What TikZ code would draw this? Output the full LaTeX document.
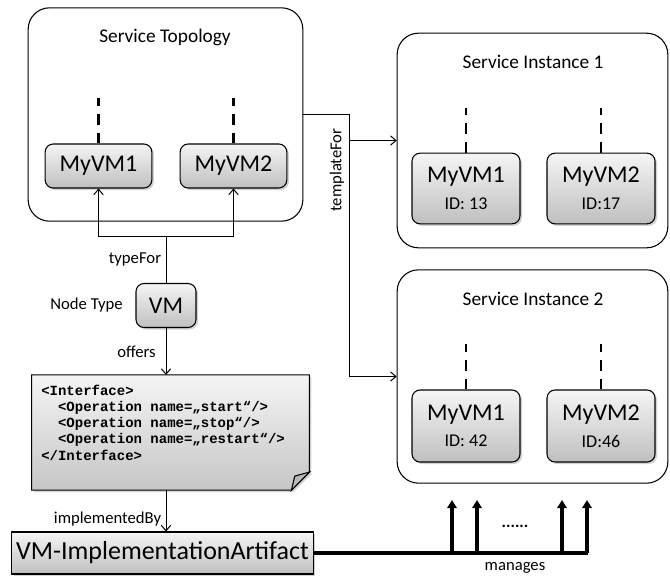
\documentclass[tikz,border=0pt]{standalone}
\usepackage{fontspec}
\setmainfont{Carlito}
\setmonofont{Liberation Mono}
\usetikzlibrary{positioning,shadows,arrows.meta}

\tikzset{
  container/.style={draw, rounded corners=16pt, line width=0.8pt, fill=white},
  title/.style={font=\fontsize{14.5}{16}\selectfont},
  lbl/.style={font=\fontsize{12.5}{14}\selectfont},
  grayfill/.style={top color=gray!8, bottom color=gray!50,
    drop shadow={shadow xshift=1.5pt, shadow yshift=-1.5pt, opacity=0.35}},
  vmbox/.style={draw, grayfill, rounded corners=6pt, line width=0.8pt,
    align=center, inner sep=0pt, font=\fontsize{18}{19}\selectfont},
  dashline/.style={line width=2pt, dash pattern=on 8pt off 6pt},
  conn/.style={line width=0.75pt, -{Straight Barb[length=4pt,width=7pt]}},
  managearrow/.style={line width=2.4pt, -{Triangle[length=6pt,width=7pt]}},
}
\newcommand{\idtext}[1]{\\[1pt]{\fontsize{13.5}{15}\selectfont #1}}

\begin{document}
\begin{tikzpicture}[x=0.75pt,y=-0.75pt]
    \useasboundingbox (0,0) rectangle (670,578);

    % containers
    \node[container, minimum width=206pt, minimum height=160pt] (topo) at (165.5,114.5) {};
    \node[container, minimum width=203pt, minimum height=161pt] (inst1) at (532.5,140.5) {};
    \node[container, minimum width=203pt, minimum height=160pt] (inst2) at (532.5,376.5) {};
    \node[title] (topotitle) at (165,37) {Service Topology};
    \node[title] (inst1title) at (533,62) {Service Instance 1};
    \node[title] (inst2title) at (533,299) {Service Instance 2};

    % vms
    \node[vmbox, minimum width=80pt, minimum height=33pt] (t1) at (98.5,166) {MyVM1};
    \node[vmbox, minimum width=80pt, minimum height=33pt] (t2) at (233.5,166) {MyVM2};
    \node[vmbox, minimum width=81pt, minimum height=53pt] (a1) at (466,188.5) {MyVM1\idtext{ID: 13}};
    \node[vmbox, minimum width=81pt, minimum height=53pt] (a2) at (601,188.5) {MyVM2\idtext{ID:17}};
    \node[vmbox, minimum width=81pt, minimum height=54pt] (b1) at (466,426) {MyVM1\idtext{ID: 42}};
    \node[vmbox, minimum width=81pt, minimum height=54pt] (b2) at (601,426) {MyVM2\idtext{ID:46}};
    \foreach \n in {t1,t2,a1,a2,b1,b2}
        \draw[dashline] (\n.north) -- ++(0,-45);

    % node type
    \node[vmbox, minimum width=45pt, minimum height=33pt] (vm) at (166,305.5) {VM};
    \node[lbl, left=6pt of vm] (nodetype) {Node Type};

    % interface
    \node[minimum width=208pt, minimum height=86pt, inner sep=0pt] (iface) at (170.5,432.5) {};
    \path[draw, line width=0.8pt, top color=gray!8, bottom color=gray!45,
          drop shadow={shadow xshift=1.5pt, shadow yshift=-1.5pt, opacity=0.35}]
        (iface.north west) -- (iface.north east) -- ([yshift=13.5pt]iface.south east)
        -- ([xshift=-13.5pt]iface.south east) -- (iface.south west) -- cycle;
    \draw[line width=0.8pt, fill=gray!55]
        ([xshift=-13.5pt]iface.south east) -- ([xshift=-11pt,yshift=10.5pt]iface.south east)
        -- ([yshift=13.5pt]iface.south east) -- cycle;
    \node[anchor=west, align=left, inner sep=0pt,
          font=\ttfamily\bfseries\fontsize{10.5}{12.2}\selectfont] (ifacecode) at (41,422.5)
        {<Interface>\\
         \phantom{xx}<Operation name=„start“/>\\
         \phantom{xx}<Operation name=„stop“/>\\
         \phantom{xx}<Operation name=„restart“/>\\
         </Interface>};

    % artifact
    \node[draw, grayfill, line width=0.8pt, minimum width=226pt, minimum height=31.5pt,
          inner sep=0pt, font=\fontsize{19.5}{21}\selectfont] (art) at (162.5,553) {VM-ImplementationArtifact};

    % lines
    \coordinate (tf) at (166,236);
    \draw[line width=0.75pt] (vm.north) -- (tf) node[lbl, midway, left] (typefor) {typeFor};
    \draw[conn] (tf) -| (t1.south);
    \draw[conn] (tf) -| (t2.south);
    \draw[conn] (vm.south) -- (vm.south |- iface.north) node[lbl, midway, left, xshift=-4pt] (offers) {offers};
    \draw[conn] (vm.south |- iface.south) -- (vm.south |- art.north) node[lbl, pos=0.7, left] (implby) {implementedBy};

    \coordinate (tj) at (349,114.5);
    \draw[conn] (topo.east) -- (tj) |- (inst2.west);
    \draw[conn] (tj |- inst1.west) -- (inst1.west);
    \node[lbl, rotate=90] (templfor) at (337,170) {templateFor};

    % manages
    \coordinate (mend) at (588,553);
    \draw[line width=2.4pt] (art.east) -- (mend);
    \foreach \x [count=\i] in {452,477,562,587} {
        \coordinate (mb\i) at (\x,553);
        \coordinate (mt\i) at (\x,500);
        \draw[managearrow] (mb\i) -- (mt\i);
    }
    \node[lbl] (dots) at (515,526) {\bfseries......};
    \node[lbl] (manages) at (515,568) {manages};
\end{tikzpicture}
\end{document}
